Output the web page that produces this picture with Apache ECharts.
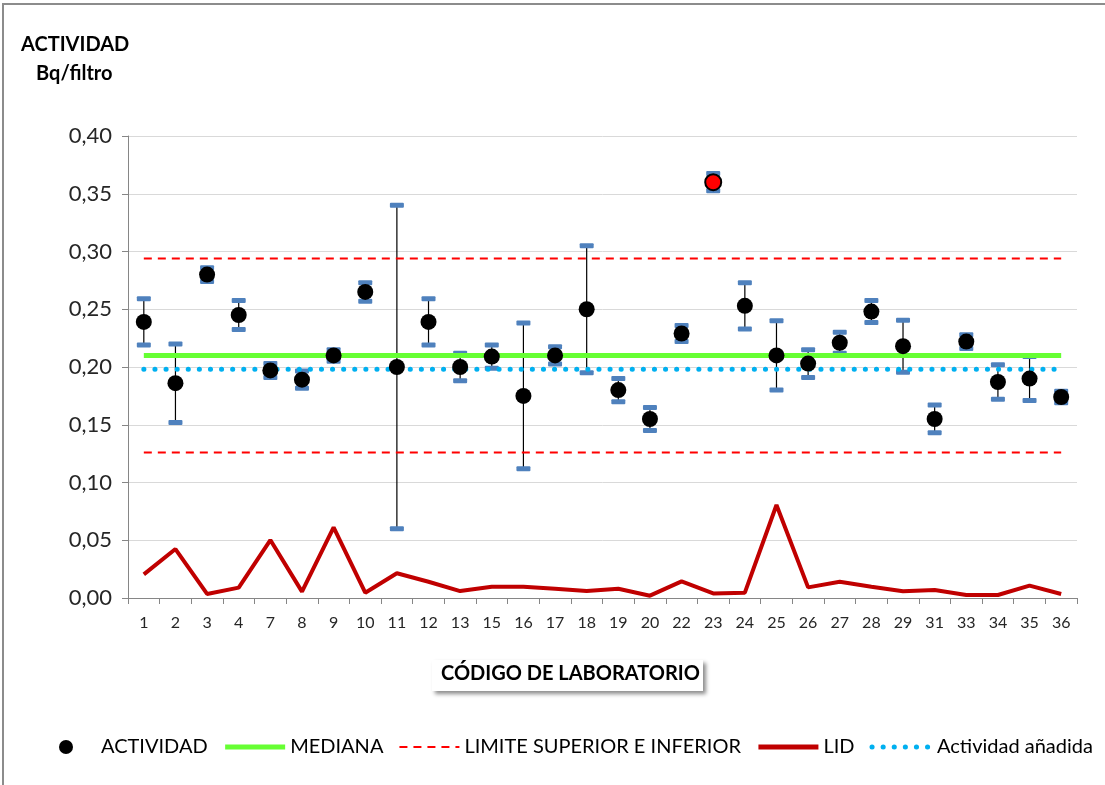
<!DOCTYPE html>
<html>
<head>
<meta charset="utf-8">
<title>Actividad por laboratorio</title>
<script src="https://cdn.jsdelivr.net/npm/echarts@6/dist/echarts.min.js"></script>
<style>
  html, body { margin: 0; padding: 0; background: #fff; }
  #chart { width: 1105px; height: 785px; }
</style>
</head>
<body>
<div id="chart"></div>
<script>
// codigos de laboratorio (eje x)
var labs = ['1','2','3','4','7','8','9','10','11','12','13','15','16','17','18','19','20','22','23','24','25','26','27','28','29','31','33','34','35','36'];
// actividad medida (Bq/filtro)
var actividad = [0.239,0.186,0.280,0.245,0.197,0.189,0.210,0.265,0.200,0.239,0.200,0.209,0.175,0.210,0.250,0.180,0.155,0.229,0.360,0.253,0.210,0.203,0.221,0.248,0.218,0.155,0.222,0.187,0.190,0.174];
// incertidumbre (barra de error +/-)
var incert = [0.020,0.034,0.006,0.0125,0.006,0.0075,0.005,0.008,0.140,0.020,0.012,0.010,0.063,0.0075,0.055,0.010,0.010,0.007,0.0075,0.020,0.030,0.012,0.009,0.0095,0.0225,0.012,0.006,0.015,0.019,0.005];
// limite inferior de deteccion
var lid = [0.0205,0.0424,0.0035,0.009,0.0502,0.0055,0.0612,0.0046,0.0214,0.0141,0.006,0.0098,0.0098,0.008,0.006,0.008,0.002,0.0144,0.004,0.0046,0.0805,0.0092,0.014,0.0098,0.0058,0.0069,0.0026,0.0026,0.0107,0.0035];
// valores de referencia
var mediana = 0.210;
var limSup = 0.294;
var limInf = 0.126;
var anadida = 0.198;
// laboratorio fuera de limites (punto rojo)
var fueraLimite = ['23'];
var yTicks = [0, 0.40, 0.05];

var FONT = 'Lato';

function getChart() {
  var chart = echarts.init(document.getElementById('chart'));

  var errData = labs.map(function (l, i) {
    return [i, actividad[i] - incert[i], actividad[i] + incert[i]];
  });
  var ptData = labs.map(function (l, i) {
    var v = { value: actividad[i] };
    if (fueraLimite.indexOf(l) >= 0) {
      v.itemStyle = { color: '#ff0000', borderColor: '#000', borderWidth: 2 };
    }
    return v;
  });
  var constLine = function (v) { return labs.map(function () { return v; }); };
  // sin simbolo en los iconos de linea de la leyenda
  var noSym = { opacity: 0 };

  var option = {
    animation: false,
    backgroundColor: '#fff',
    textStyle: { fontFamily: FONT },
    grid: { left: 128, right: 28, top: 136, bottom: 187 },
    legend: {
      left: 59,
      top: 737,
      width: 1080,
      padding: 0,
      itemWidth: 60,
      itemHeight: 14,
      itemGap: 15,
      textStyle: { fontFamily: FONT, fontSize: 20, color: '#000' },
      data: [
        { name: 'ACTIVIDAD', icon: 'circle', itemStyle: { color: '#000', opacity: 1 } },
        { name: 'MEDIANA', itemStyle: noSym, lineStyle: { width: 5 } },
        { name: 'LIMITE SUPERIOR E INFERIOR', itemStyle: noSym, lineStyle: { width: 2 } },
        { name: 'LID', itemStyle: noSym, lineStyle: { width: 5 } },
        { name: 'Actividad añadida', itemStyle: noSym, lineStyle: { width: 5 } }
      ]
    },
    xAxis: {
      type: 'category',
      data: labs,
      boundaryGap: true,
      axisLine: { lineStyle: { color: '#868686', width: 1 } },
      axisTick: { show: true, alignWithLabel: false, length: 6, lineStyle: { color: '#868686' } },
      axisLabel: { color: '#262626', fontSize: 16, margin: 17, interval: 0 },
      splitLine: { show: false }
    },
    yAxis: {
      type: 'value',
      min: yTicks[0],
      max: yTicks[1],
      interval: yTicks[2],
      axisLine: { show: true, lineStyle: { color: '#868686', width: 1 } },
      axisTick: { show: true, length: 6, lineStyle: { color: '#868686' } },
      axisLabel: {
        color: '#262626',
        fontSize: 22,
        margin: 16,
        formatter: function (v) { return v.toFixed(2).replace('.', ','); }
      },
      splitLine: { lineStyle: { color: '#d9d9d9', width: 1 } }
    },
    graphic: [
      // marco del grafico
      { type: 'polyline', silent: true, shape: { points: [[3, 785], [3, 4], [1105, 4]] },
        style: { stroke: '#8c8c8c', lineWidth: 2, fill: null } },
      // titulo eje y
      { type: 'text', left: 21, top: 35,
        style: { text: 'ACTIVIDAD', font: 'bold 20px ' + FONT, fill: '#000' } },
      { type: 'text', left: 36, top: 64,
        style: { text: 'Bq/filtro', font: 'bold 20px ' + FONT, fill: '#000' } },
      // titulo eje x en caja con sombra
      { type: 'rect', left: 432, top: 660, silent: true,
        shape: { width: 271, height: 31 },
        style: { fill: '#fff', shadowBlur: 4, shadowOffsetX: 3, shadowOffsetY: 3, shadowColor: 'rgba(0,0,0,0.45)' } },
      { type: 'text', left: 441, top: 664,
        style: { text: 'CÓDIGO DE LABORATORIO', font: 'bold 20px ' + FONT, fill: '#000' } }
    ],
    series: [
      {
        name: 'error',
        type: 'custom',
        z: 1,
        data: errData,
        renderItem: function (params, api) {
          var x = api.coord([api.value(0), 0])[0];
          var lo = api.coord([api.value(0), api.value(1)])[1];
          var hi = api.coord([api.value(0), api.value(2)])[1];
          var cw = 14, ch = 5;
          return {
            type: 'group',
            children: [
              { type: 'line', shape: { x1: x, y1: hi, x2: x, y2: lo },
                style: { stroke: '#000', lineWidth: 1.2 } },
              { type: 'rect', shape: { x: x - cw / 2, y: hi - ch / 2, width: cw, height: ch, r: 1 },
                style: { fill: '#4f81bd' } },
              { type: 'rect', shape: { x: x - cw / 2, y: lo - ch / 2, width: cw, height: ch, r: 1 },
                style: { fill: '#4f81bd' } }
            ]
          };
        }
      },
      {
        name: 'MEDIANA',
        type: 'line',
        z: 2,
        data: constLine(mediana),
        symbol: 'none',
        color: '#66ff33',
        lineStyle: { color: '#66ff33', width: 5 }
      },
      {
        name: 'LIMITE SUPERIOR E INFERIOR',
        type: 'line',
        z: 2,
        data: constLine(limSup),
        symbol: 'none',
        color: '#ff0000',
        lineStyle: { color: '#ff0000', width: 2, type: [8, 6] }
      },
      {
        name: 'LIMITE SUPERIOR E INFERIOR',
        type: 'line',
        z: 2,
        data: constLine(limInf),
        symbol: 'none',
        color: '#ff0000',
        lineStyle: { color: '#ff0000', width: 2, type: [8, 6] }
      },
      {
        name: 'LID',
        type: 'line',
        z: 2,
        data: lid,
        symbol: 'none',
        color: '#c00000',
        lineStyle: { color: '#c00000', width: 4 }
      },
      {
        name: 'Actividad añadida',
        type: 'line',
        z: 2,
        data: constLine(anadida),
        symbol: 'none',
        color: '#00b0f0',
        lineStyle: { color: '#00b0f0', width: 5, type: [0.1, 11], cap: 'round' }
      },
      {
        name: 'ACTIVIDAD',
        type: 'scatter',
        z: 3,
        data: ptData,
        symbol: 'circle',
        symbolSize: 16,
        color: '#000',
        itemStyle: { color: '#000', opacity: 1 }
      }
    ]
  };
  chart.setOption(option);
}

getChart();
</script>
</body>
</html>
